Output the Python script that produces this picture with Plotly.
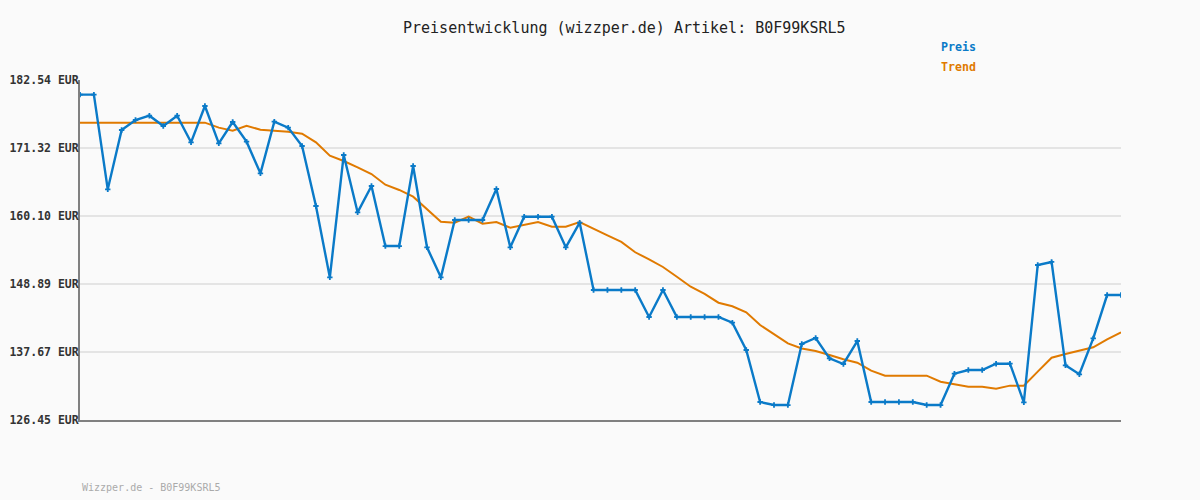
import plotly.graph_objects as go

preis = [180.12, 180.12, 164.50, 174.29, 175.94, 176.65, 174.95, 176.65, 172.26, 178.25,
         172.09, 175.61, 172.37, 167.14, 175.67, 174.68, 171.65, 161.75, 149.98, 170.17,
         160.71, 165.05, 155.15, 155.15, 168.35, 154.94, 149.98, 159.44, 159.44, 159.44,
         164.56, 154.94, 159.99, 159.99, 159.99, 154.94, 159.00, 147.90, 147.90, 147.90,
         147.90, 143.44, 147.90, 143.44, 143.44, 143.44, 143.44, 142.51, 138.00, 129.42,
         128.92, 128.92, 138.99, 139.98, 136.62, 135.69, 139.48, 129.42, 129.42, 129.42,
         129.42, 128.92, 128.92, 134.09, 134.70, 134.70, 135.74, 135.74, 129.37, 152.02,
         152.52, 135.47, 133.99, 139.92, 147.07, 147.07]

trend = [175.50, 175.50, 175.50, 175.50, 175.50, 175.50, 175.50, 175.50, 175.50, 175.50,
         174.68, 174.18, 175.00, 174.34, 174.18, 174.01, 173.68, 172.26, 170.05, 169.18,
         168.14, 167.03, 165.27, 164.40, 163.29, 161.26, 159.16, 159.00, 159.99, 158.84,
         159.11, 158.18, 158.67, 159.11, 158.34, 158.34, 159.11, 157.96, 156.92, 155.82,
         154.12, 152.96, 151.69, 150.09, 148.44, 147.24, 145.80, 145.21, 144.22, 142.12,
         140.63, 139.09, 138.26, 137.83, 137.17, 136.46, 135.90, 134.59, 133.76, 133.76,
         133.76, 133.76, 132.77, 132.34, 131.95, 131.95, 131.62, 132.12, 132.12, 134.43,
         136.73, 137.34, 137.89, 138.44, 139.76, 140.92]

tick_vals = [126.45, 137.67, 148.89, 160.10, 171.32, 182.54]
tick_text = [f"{v:.2f} EUR" for v in tick_vals]

title_text = "Preisentwicklung (wizzper.de) Artikel: B0F99KSRL5"
footer_text = "Wizzper.de - B0F99KSRL5"

BLUE = "#0a7ac8"
ORANGE = "#e07a00"
FONT = "DejaVu Sans Mono"

x = list(range(len(preis)))

fig = go.Figure()
fig.add_trace(go.Scatter(x=x, y=trend, mode="lines", name="Trend",
                         line=dict(color=ORANGE, width=2), hoverinfo="skip"))
fig.add_trace(go.Scatter(x=x, y=preis, mode="lines+markers", name="Preis",
                         line=dict(color=BLUE, width=2.4),
                         marker=dict(symbol="cross", size=4.5, color=BLUE)))

fig.update_layout(
    width=1200, height=500,
    margin=dict(l=80, r=79, t=80, b=80, autoexpand=False),
    paper_bgcolor="#fafafa", plot_bgcolor="#fafafa",
    showlegend=False,
    font=dict(family=FONT, color="#333333"),
    xaxis=dict(range=[0, len(preis) - 1], showgrid=False, zeroline=False,
               showticklabels=False, ticks="", showline=True, automargin=False,
               linecolor="#808080", linewidth=2),
    yaxis=dict(range=[126.45, 182.54], tickvals=tick_vals, ticktext=tick_text,
               showgrid=True, gridcolor="#e4e4e4", gridwidth=2, zeroline=False,
               ticks="", showline=True, linecolor="#808080", linewidth=2,
               automargin=False, ticklabelstandoff=-3,
               tickfont=dict(family=FONT, size=11.5, color="#333333", weight="bold")),
)

fig.add_annotation(text=title_text, xref="paper", yref="paper",
                   x=(624 - 80) / 1041, y=1 + (80 - 28) / 340, xanchor="center", yanchor="middle",
                   showarrow=False, font=dict(family=FONT, size=15, color="#222222"))
fig.add_annotation(text="Preis", xref="paper", yref="paper",
                   x=(939 - 80) / 1041, y=1 + (80 - 47) / 340, xanchor="left", yanchor="middle",
                   showarrow=False, font=dict(family=FONT, size=11.6, color=BLUE, weight="bold"))
fig.add_annotation(text="Trend", xref="paper", yref="paper",
                   x=(939 - 80) / 1041, y=1 + (80 - 67) / 340, xanchor="left", yanchor="middle",
                   showarrow=False, font=dict(family=FONT, size=11.6, color=ORANGE, weight="bold"))
fig.add_annotation(text=footer_text, xref="paper", yref="paper",
                   x=0, y=-(487 - 420) / 340, xanchor="left", yanchor="middle",
                   showarrow=False, font=dict(family=FONT, size=10, color="#aaaaaa"))

fig.write_html("out.html", config={"displayModeBar": False},
               post_script="document.body.style.margin='0';")
